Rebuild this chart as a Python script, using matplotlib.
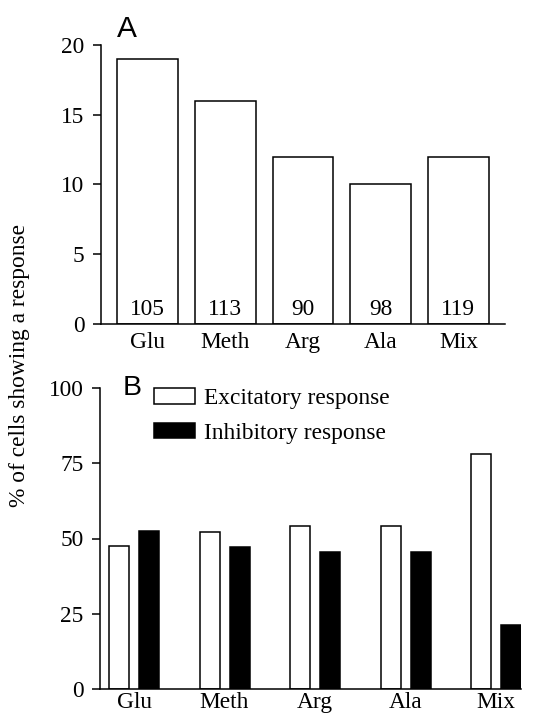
import matplotlib
matplotlib.use("Agg")
import matplotlib.pyplot as plt
import numpy as np
from matplotlib.patches import Patch

# Data
odorants = ['Glu', 'Meth', 'Arg', 'Ala', 'Mix']
pct_responding = [19, 16, 12, 10, 12]
n_cells = [105, 113, 90, 98, 119]
excitatory = [47.4, 52.2, 54.3, 54.3, 78.2]
inhibitory = [52.6, 47.3, 45.5, 45.5, 21.1]

plt.rcParams['font.family'] = ['Liberation Serif', 'DejaVu Serif']
fs = 16.8
lw = 1.1

fig = plt.figure(figsize=(5.39, 7.14), dpi=100)

def style(ax):
    for s in ['top', 'right']:
        ax.spines[s].set_visible(False)
    for s in ['left', 'bottom']:
        ax.spines[s].set_linewidth(lw)
    ax.tick_params(axis='y', direction='out', length=5.8, width=lw, pad=6, labelsize=fs)
    ax.tick_params(axis='x', length=0, labelsize=fs)

# Panel A
axA = fig.add_axes([101 / 539, 1 - 324 / 714, 404 / 539, 279 / 714])
x = np.arange(len(odorants))
axA.bar(x, pct_responding, width=0.785, color='white', edgecolor='black', linewidth=lw)
for xi, n in zip(x, n_cells):
    axA.text(xi, 0.65, str(n), ha='center', va='baseline', fontsize=fs)
axA.set_xlim(-0.6, 4.6)
axA.set_ylim(0, 20)
axA.set_yticks([0, 5, 10, 15, 20])
axA.set_xticks(x)
axA.set_xticklabels(odorants)
axA.tick_params(axis='x', pad=6)
style(axA)

# Panel B
axB = fig.add_axes([100 / 539, 1 - 689 / 714, 421 / 539, 301 / 714])
w = 0.221
off = 0.166
axB.bar(x - off, excitatory, width=w, color='white', edgecolor='black', linewidth=lw)
axB.bar(x + off, inhibitory, width=w, color='black', edgecolor='black', linewidth=lw)
axB.set_xlim(-0.376, 4.276)
axB.set_ylim(0, 100)
axB.set_yticks([0, 25, 50, 75, 100])
axB.set_xticks(x)
axB.set_xticklabels(odorants)
axB.tick_params(axis='x', pad=2)
style(axB)

handles = [Patch(facecolor='white', edgecolor='black', linewidth=lw),
           Patch(facecolor='black', edgecolor='black', linewidth=lw)]
fig.legend(handles, ['Excitatory response', 'Inhibitory response'],
           loc='upper left', bbox_to_anchor=(154 / 539, 1 - 388 / 714),
           frameon=False, handlelength=1.76, handleheight=0.64,
           handletextpad=0.38, labelspacing=0.58, borderpad=0, borderaxespad=0,
           fontsize=fs)

# Panel letters
fig.text(117 / 539, 1 - 37 / 714, 'A', fontsize=21.5, family='Liberation Sans', va='baseline')
fig.text(123 / 539, 1 - 395 / 714, 'B', fontsize=20.5, family='Liberation Sans', va='baseline')

fig.text(20 / 539, 1 - 366 / 714, '% of cells showing a response', rotation=90,
         ha='center', va='center', fontsize=fs)

fig.savefig('out.png', dpi=100)
